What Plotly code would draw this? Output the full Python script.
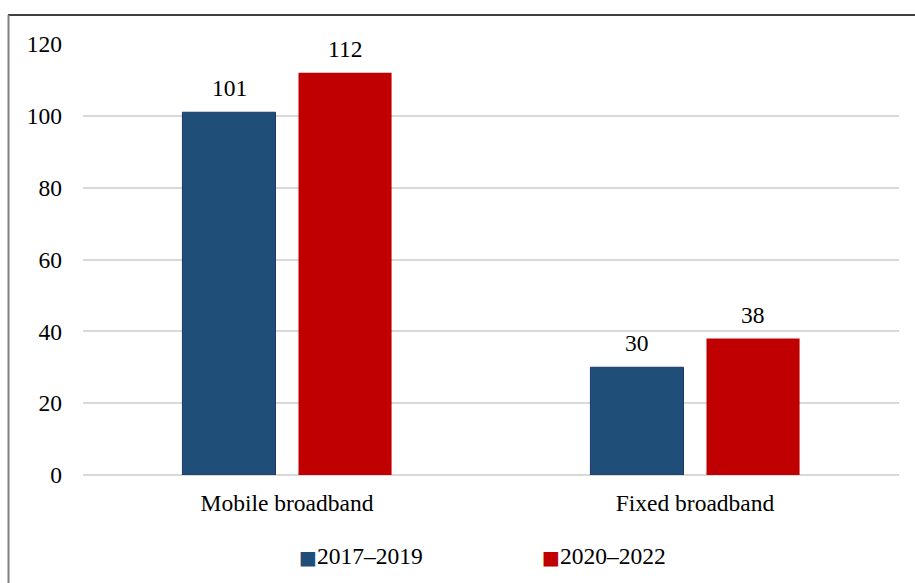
import plotly.graph_objects as go

categories = ["Mobile broadband", "Fixed broadband"]
series_names = ["2017–2019", "2020–2022"]
values_2017_2019 = [101, 30]
values_2020_2022 = [112, 38]
y_ticks = [0, 20, 40, 60, 80, 100, 120]

FONT = "Liberation Serif"
FS = 23.5
BLUE = "#1F4E79"
RED = "#C00000"

W, H = 915, 583
ML, MR, MT, MB = 83, 16, 44, 108
PW, PH = W - ML - MR, H - MT - MB

fig = go.Figure()
fig.add_trace(go.Bar(
    name=series_names[0], x=categories, y=values_2017_2019,
    marker=dict(color=BLUE, line=dict(color="#1F3864", width=1)),
    hoverinfo="skip", showlegend=False,
))
fig.add_trace(go.Bar(
    name=series_names[1], x=categories, y=values_2020_2022,
    marker=dict(color=RED, line=dict(color=RED, width=0)),
    hoverinfo="skip", showlegend=False,
))

# value labels above each bar, shifted to the bar's slot within the group
slot_px = 58
for vals, shift in ((values_2017_2019, -slot_px), (values_2020_2022, slot_px)):
    for cat, v in zip(categories, vals):
        fig.add_annotation(
            x=cat, y=v, text=str(v), showarrow=False,
            xshift=shift, yanchor="bottom", yshift=9,
            font=dict(family=FONT, size=FS, color="black"),
        )

px = lambda p: (p - ML) / PW
py = lambda p: 1 - (p - MT) / PH

# legend along the bottom: coloured square followed by the series name
for name, col, left in ((series_names[0], BLUE, 297), (series_names[1], RED, 540)):
    fig.add_annotation(
        xref="paper", yref="paper", x=px(left), y=py(556),
        xanchor="left", yanchor="middle", showarrow=False,
        text=f"<span style='color:{col};font-family:DejaVu Sans;font-size:19px'>■</span>{name}",
        font=dict(family=FONT, size=FS, color="black"),
    )

# frame: black rule along the top, grey rule down the left side
fig.add_shape(type="line", xref="paper", yref="paper",
              x0=px(8), x1=px(W), y0=py(15), y1=py(15),
              line=dict(color="black", width=1.3))
fig.add_shape(type="line", xref="paper", yref="paper",
              x0=px(8.5), x1=px(8.5), y0=py(15), y1=py(H),
              line=dict(color="#808080", width=2))

fig.update_layout(
    width=W, height=H,
    margin=dict(l=ML, r=MR, t=MT, b=MB, autoexpand=False),
    paper_bgcolor="white", plot_bgcolor="white",
    barmode="group", bargap=0.431, bargroupgap=0.198,
    font=dict(family=FONT, size=FS, color="black"),
    showlegend=False,
    xaxis=dict(showgrid=False, showline=False, ticks="", ticklabelstandoff=11,
               tickfont=dict(family=FONT, size=FS, color="black")),
    yaxis=dict(range=[0, 120], tickvals=y_ticks, showgrid=True,
               gridcolor="#D9D9D9", gridwidth=1.5, zeroline=True,
               zerolinecolor="#D9D9D9", zerolinewidth=1.5, showline=False,
               ticks="", ticklabelstandoff=20,
               tickfont=dict(family=FONT, size=FS, color="black")),
)

fig.write_html("out.html")
